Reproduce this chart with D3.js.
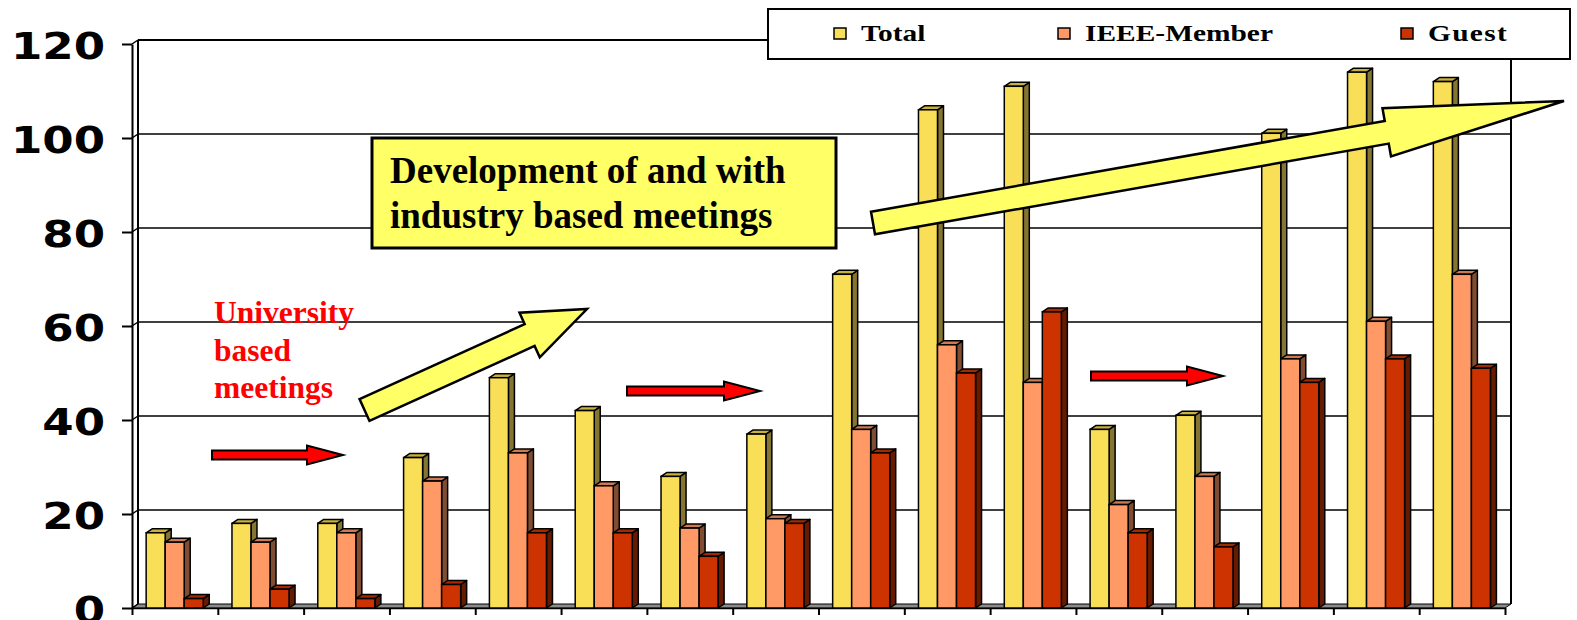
<!DOCTYPE html>
<html>
<head>
<meta charset="utf-8">
<script src="https://cdn.jsdelivr.net/npm/d3@7/dist/d3.min.js"></script>
<style>
  body { margin: 0; background: #fff; }
  svg { display: block; }
</style>
</head>
<body>
<svg width="1577" height="620"></svg>
<script>
// meetings in chronological order (no labels shown on the axis)
var categories = ["1", "2", "3", "4", "5", "6", "7", "8", "9", "10", "11", "12", "13", "14", "15", "16"];
var seriesNames = ["Total", "IEEE-Member", "Guest"];
var totals  = [16, 18, 18, 32, 49, 42, 28, 37, 71, 106, 111, 38, 41, 101, 114, 112];
var members = [14, 14, 16, 27, 33, 26, 17, 19, 38, 56, 48, 22, 28, 53, 61, 71];
var guests  = [2, 4, 2, 5, 16, 16, 11, 18, 33, 50, 63, 16, 13, 48, 53, 51];
var yTicks = [0, 20, 40, 60, 80, 100, 120];

var colors = {
    "Total":       {front: "#f9df57", side: "#857532", top: "#c9b13d"},
    "IEEE-Member": {front: "#ff9966", side: "#804d33", top: "#cc7a52"},
    "Guest":       {front: "#cc3300", side: "#661a00", top: "#a32900"}
};

var svg = d3.select("svg");
var dx = 6, dy = 4; // 3d depth

var yBack = d3.scaleLinear().domain([0, 120]).range([604, 40]);
var yFront = d3.scaleLinear().domain([0, 120]).range([608, 44]);
var x = d3.scaleBand().domain(categories).range([132, 1505]);
var xs = d3.scaleBand().domain(seriesNames)
    .range([x.bandwidth() * 0.165, x.bandwidth() * 0.83]);
var xEdge = d3.scaleLinear().domain([0, categories.length]).range([132, 1505]);

var left = 132 + dx, right = 1505 + dx;

// floor
svg.append("polygon")
    .attr("points", [[132, yFront(0)], [1505, yFront(0)], [right, yBack(0)], [left, yBack(0)]].join(" "))
    .attr("fill", "#8c8c8c")
    .attr("stroke", "#000")
    .attr("stroke-width", 1);

// back wall and gridlines
svg.selectAll(".grid")
    .data(yTicks.filter(function(d) { return d > 0; }))
    .enter().append("line")
    .attr("class", "grid")
    .attr("x1", left).attr("x2", right)
    .attr("y1", function(d) { return yBack(d); })
    .attr("y2", function(d) { return yBack(d); })
    .attr("stroke", "#000")
    .attr("stroke-width", function(d) { return d == 120 ? 2 : 1.5; });

svg.append("line")
    .attr("x1", left).attr("x2", left)
    .attr("y1", yBack(120)).attr("y2", yBack(0))
    .attr("stroke", "#000").attr("stroke-width", 2);

svg.append("line")
    .attr("x1", right).attr("x2", right)
    .attr("y1", yBack(120)).attr("y2", yBack(0))
    .attr("stroke", "#000").attr("stroke-width", 2);

// connectors from front axis ticks to the wall
svg.selectAll(".conn")
    .data(yTicks)
    .enter().append("line")
    .attr("class", "conn")
    .attr("x1", 132).attr("x2", left)
    .attr("y1", function(d) { return yFront(d); })
    .attr("y2", function(d) { return yBack(d); })
    .attr("stroke", "#000").attr("stroke-width", 1.5);

// y axis
var yAxis = svg.append("g")
    .attr("transform", "translate(132,0)")
    .call(d3.axisLeft(yFront).tickValues(yTicks).tickSize(10).tickSizeOuter(0));

yAxis.select(".domain").attr("stroke", "#000").attr("stroke-width", 2);
yAxis.selectAll(".tick line").attr("stroke", "#000").attr("stroke-width", 2);
yAxis.selectAll(".tick text")
    .attr("x", -22)
    .attr("dy", 14)
    .attr("transform", "scale(1.22,1)")
    .attr("fill", "#000")
    .attr("font-family", "DejaVu Sans")
    .attr("font-weight", "bold")
    .attr("font-size", 37)
    .attr("text-anchor", "end");

// bottom axis ticks at category edges
var xAxis = svg.append("g")
    .attr("transform", "translate(0," + yFront(0) + ")")
    .call(d3.axisBottom(xEdge).tickValues(d3.range(categories.length + 1)).tickFormat("").tickSize(7).tickSizeOuter(0));
xAxis.select(".domain").attr("stroke", "#000").attr("stroke-width", 1.5);
xAxis.selectAll(".tick line").attr("stroke", "#000").attr("stroke-width", 2);

// bars
var rows = categories.map(function(c, i) {
    return {cat: c, values: [
        {name: "Total", value: totals[i]},
        {name: "IEEE-Member", value: members[i]},
        {name: "Guest", value: guests[i]}
    ]};
});

var groups = svg.selectAll(".group")
    .data(rows)
    .enter().append("g")
    .attr("class", "group")
    .attr("transform", function(d) { return "translate(" + x(d.cat) + ",0)"; });

var bars = groups.selectAll(".bar")
    .data(function(d) { return d.values; })
    .enter().append("g")
    .attr("class", "bar");

var w = xs.bandwidth();

bars.append("polygon") // side
    .attr("points", function(d) {
        var x0 = xs(d.name) + w, t = yFront(d.value), b = yFront(0);
        return [[x0, t], [x0 + dx, t - dy], [x0 + dx, b - dy], [x0, b]].join(" ");
    })
    .attr("fill", function(d) { return colors[d.name].side; })
    .attr("stroke", "#000").attr("stroke-width", 1.5).attr("stroke-linejoin", "round");

bars.append("polygon") // top
    .attr("points", function(d) {
        var x0 = xs(d.name), t = yFront(d.value);
        return [[x0, t], [x0 + dx, t - dy], [x0 + w + dx, t - dy], [x0 + w, t]].join(" ");
    })
    .attr("fill", function(d) { return colors[d.name].top; })
    .attr("stroke", "#000").attr("stroke-width", 1.5).attr("stroke-linejoin", "round");

bars.append("rect") // front
    .attr("x", function(d) { return xs(d.name); })
    .attr("y", function(d) { return yFront(d.value); })
    .attr("width", w)
    .attr("height", function(d) { return yFront(0) - yFront(d.value); })
    .attr("fill", function(d) { return colors[d.name].front; })
    .attr("stroke", "#000").attr("stroke-width", 1.5);

// legend
var legend = svg.append("g");
legend.append("rect")
    .attr("x", 768).attr("y", 9).attr("width", 802).attr("height", 50)
    .attr("fill", "#fff").attr("stroke", "#000").attr("stroke-width", 2);

var legendX = [834, 1058, 1401];
seriesNames.forEach(function(name, i) {
    legend.append("rect")
        .attr("x", legendX[i]).attr("y", 28).attr("width", 12).attr("height", 11)
        .attr("fill", colors[name].front).attr("stroke", "#000").attr("stroke-width", 1.5);
    legend.append("text")
        .attr("transform", "translate(" + (legendX[i] + 27) + ",41) scale(1.28,1)")
        .attr("font-family", "Liberation Serif")
        .attr("font-weight", "bold")
        .attr("font-size", 23)
        .attr("letter-spacing", name == "Guest" ? 1 : 0)
        .text(name);
});

// annotations
function arrowPoints(tail, tip, shaftW, headW, headL) {
    var vx = tip[0] - tail[0], vy = tip[1] - tail[1];
    var len = Math.sqrt(vx * vx + vy * vy);
    var ux = vx / len, uy = vy / len, px = -uy, py = ux;
    var bx = tip[0] - ux * headL, by = tip[1] - uy * headL;
    function p(cx, cy, off) { return [cx + px * off, cy + py * off]; }
    return [p(tail[0], tail[1], -shaftW / 2), p(bx, by, -shaftW / 2), p(bx, by, -headW / 2), tip,
            p(bx, by, headW / 2), p(bx, by, shaftW / 2), p(tail[0], tail[1], shaftW / 2)].join(" ");
}

var redArrows = [
    {tail: [212, 455], tip: [343, 455]},
    {tail: [627, 391], tip: [760, 391]},
    {tail: [1091, 376], tip: [1223, 376]}
];
svg.selectAll(".red-arrow")
    .data(redArrows)
    .enter().append("polygon")
    .attr("class", "red-arrow")
    .attr("points", function(d) { return arrowPoints(d.tail, d.tip, 9, 19, 36); })
    .attr("fill", "#ff0000")
    .attr("stroke", "#000").attr("stroke-width", 2);

var yellowArrows = [
    {tail: [364.5, 410], tip: [587, 309], shaft: 24, head: 49, headL: 63},
    {tail: [873, 223], tip: [1564, 101], shaft: 23, head: 49, headL: 180}
];
svg.selectAll(".yellow-arrow")
    .data(yellowArrows)
    .enter().append("polygon")
    .attr("class", "yellow-arrow")
    .attr("points", function(d) { return arrowPoints(d.tail, d.tip, d.shaft, d.head, d.headL); })
    .attr("fill", "#ffff66")
    .attr("stroke", "#000").attr("stroke-width", 2.5).attr("stroke-linejoin", "miter");

svg.append("rect")
    .attr("x", 372).attr("y", 138).attr("width", 464).attr("height", 110)
    .attr("fill", "#ffff66").attr("stroke", "#000").attr("stroke-width", 3);

var boxText = svg.append("text")
    .attr("font-family", "Liberation Serif")
    .attr("font-weight", "bold")
    .attr("font-size", 37)
    .attr("fill", "#000");
boxText.append("tspan").attr("x", 390).attr("y", 183).text("Development of and with");
boxText.append("tspan").attr("x", 390).attr("y", 228).text("industry based meetings");

var uniText = svg.append("text")
    .attr("font-family", "Liberation Serif")
    .attr("font-weight", "bold")
    .attr("font-size", 31.5)
    .attr("fill", "#ff0000");
["University", "based", "meetings"].forEach(function(s, i) {
    uniText.append("tspan").attr("x", 214).attr("y", 323 + i * 37.5).text(s);
});
</script>
</body>
</html>
